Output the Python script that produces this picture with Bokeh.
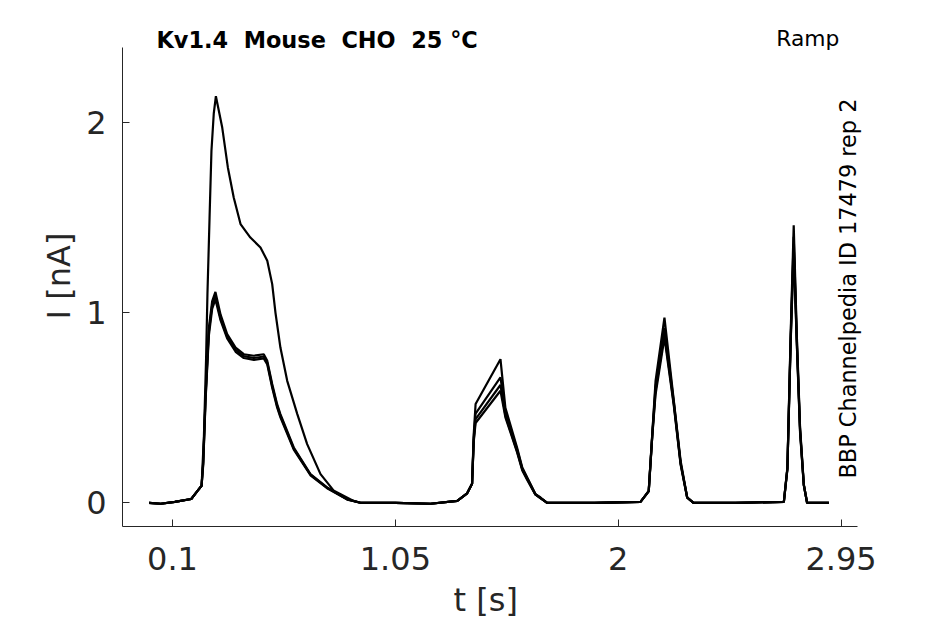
import math
from bokeh.plotting import figure
from bokeh.models import Label, FixedTicker, Range1d, Title
from bokeh.embed import file_html
from bokeh.resources import INLINE

# ---- data (time in s, current in nA) ----
# sweep with the large first peak
t_hi = [0.0, 0.05, 0.11, 0.18, 0.205, 0.224, 0.234, 0.243, 0.249, 0.258,
        0.266, 0.276, 0.285, 0.312, 0.336, 0.361, 0.390, 0.432, 0.475, 0.504,
        0.525, 0.539, 0.560, 0.589, 0.632, 0.674, 0.731, 0.788, 0.872, 0.901,
        1.05, 1.20, 1.314, 1.356, 1.377, 1.384, 1.392, 1.498, 1.519,
        1.569, 1.591, 1.612, 1.647, 1.669, 1.697, 1.90, 2.095, 2.130, 2.145,
        2.159, 2.197, 2.237, 2.266, 2.294, 2.321, 2.50, 2.706, 2.721, 2.735,
        2.748, 2.761, 2.775, 2.791, 2.805, 2.898]
i_hi = [0.0, -0.005, 0.005, 0.02, 0.06, 0.09, 0.35, 0.75, 1.10, 1.50,
        1.85, 2.05, 2.14, 1.975, 1.765, 1.607, 1.467, 1.396, 1.344, 1.274,
        1.151, 1.0, 0.817, 0.642, 0.467, 0.309, 0.151, 0.063, 0.01, 0.0,
        0.0, -0.005, 0.01, 0.05, 0.10, 0.36, 0.52, 0.756, 0.50,
        0.29, 0.186, 0.133, 0.046, 0.028, 0.0, 0.0, 0.005, 0.063, 0.36,
        0.64, 0.975, 0.537, 0.22, 0.028, 0.0, 0.0, 0.005, 0.186, 0.89,
        1.46, 0.89, 0.40, 0.098, 0.0, 0.0]

# three sweeps with the smaller first peak (common sample times)
t_lo = [0.0, 0.05, 0.11, 0.18, 0.205, 0.224, 0.231, 0.241, 0.255, 0.269,
        0.283, 0.305, 0.333, 0.369, 0.404, 0.447, 0.489, 0.504, 0.525, 0.546,
        0.560, 0.617, 0.688, 0.759, 0.845, 0.901, 1.05, 1.20, 1.314, 1.356,
        1.377, 1.384, 1.392, 1.498, 1.519, 1.569, 1.591, 1.612, 1.647, 1.669,
        1.697, 1.90, 2.095, 2.130, 2.145, 2.159, 2.197, 2.237, 2.266, 2.294,
        2.321, 2.50, 2.706, 2.721, 2.735, 2.748, 2.761, 2.775, 2.791, 2.805,
        2.898]
i_lo1 = [0.0, -0.005, 0.005, 0.02, 0.06, 0.09, 0.22, 0.57, 0.92, 1.06,
         1.11, 0.99, 0.888, 0.817, 0.782, 0.774, 0.782, 0.747, 0.625, 0.519,
         0.467, 0.291, 0.151, 0.081, 0.019, 0.0, 0.0, -0.005, 0.01, 0.05,
         0.10, 0.34, 0.47, 0.66, 0.48, 0.28, 0.18, 0.13, 0.045, 0.025,
         0.0, 0.0, 0.005, 0.063, 0.36, 0.61, 0.92, 0.53, 0.21, 0.028,
         0.0, 0.0, 0.005, 0.18, 0.87, 1.40, 0.87, 0.39, 0.095, 0.0,
         0.0]
i_lo2 = [0.0, -0.005, 0.005, 0.02, 0.06, 0.09, 0.21, 0.55, 0.90, 1.04,
         1.09, 0.97, 0.875, 0.805, 0.772, 0.762, 0.770, 0.737, 0.615, 0.510,
         0.458, 0.285, 0.148, 0.079, 0.018, 0.0, 0.0, -0.005, 0.01, 0.05,
         0.10, 0.33, 0.44, 0.62, 0.46, 0.27, 0.175, 0.125, 0.044, 0.025,
         0.0, 0.0, 0.005, 0.06, 0.35, 0.59, 0.89, 0.52, 0.205, 0.027,
         0.0, 0.0, 0.005, 0.18, 0.85, 1.36, 0.85, 0.38, 0.093, 0.0,
         0.0]
i_lo3 = [0.0, -0.005, 0.005, 0.02, 0.06, 0.09, 0.20, 0.54, 0.88, 1.02,
         1.07, 0.96, 0.865, 0.795, 0.762, 0.752, 0.760, 0.728, 0.605, 0.502,
         0.450, 0.280, 0.145, 0.077, 0.017, 0.0, 0.0, -0.005, 0.01, 0.05,
         0.10, 0.32, 0.42, 0.59, 0.45, 0.265, 0.17, 0.12, 0.043, 0.024,
         0.0, 0.0, 0.005, 0.06, 0.35, 0.57, 0.87, 0.51, 0.20, 0.027,
         0.0, 0.0, 0.005, 0.175, 0.84, 1.33, 0.84, 0.37, 0.092, 0.0,
         0.0]

x_ticks = [0.1, 1.05, 2, 2.95]
x_tick_labels = ["0.1", "1.05", "2", "2.95"]
y_ticks = [0, 1, 2]
y_tick_labels = ["0", "1", "2"]

x_limits = (-0.1131, 3.0199)
y_limits = (-0.1247, 2.398)

# double spaces kept visible in SVG with no-break spaces
title_text = "Kv1.4 \u00a0Mouse \u00a0CHO \u00a025 °C"
protocol_text = "Ramp"
side_text = "BBP Channelpedia ID 17479 rep 2"
x_label = "t [s]"
y_label = "I [nA]"

# ---- figure ----
FONT = "DejaVu Sans"
AX = "#262626"

p = figure(width=945, height=624, output_backend="svg", toolbar_location=None,
           x_range=Range1d(-0.1131, 3.0753), y_range=Range1d(-0.1247, 2.5121),
           min_border_left=122, min_border_right=75,
           min_border_top=25, min_border_bottom=98)
p.outline_line_color = None
p.xgrid.visible = False
p.ygrid.visible = False
p.background_fill_color = "white"
p.border_fill_color = "white"

for tt, ii in [(t_lo, i_lo3), (t_lo, i_lo2), (t_lo, i_lo1), (t_hi, i_hi)]:
    p.line(tt, ii, line_color="black", line_width=2.2)

xa = p.xaxis[0]
xa.ticker = FixedTicker(ticks=x_ticks)
xa.major_label_overrides = {k: v for k, v in zip(x_ticks, x_tick_labels)}
xa.bounds = x_limits
ya = p.yaxis[0]
ya.ticker = FixedTicker(ticks=y_ticks)
ya.major_label_overrides = {k: v for k, v in zip(y_ticks, y_tick_labels)}
ya.bounds = y_limits
for ax in (xa, ya):
    ax.axis_line_color = AX
    ax.axis_line_width = 1
    ax.major_tick_line_color = AX
    ax.major_tick_in = 7
    ax.major_tick_out = 0
    ax.minor_tick_line_color = None
    ax.major_label_text_font = FONT
    ax.major_label_text_font_size = "32px"
    ax.major_label_text_color = AX
    ax.axis_label_text_font = FONT
    ax.axis_label_text_font_size = "32px"
    ax.axis_label_text_font_style = "normal"
    ax.axis_label_text_color = AX
xa.major_label_standoff = 20
ya.major_label_standoff = 16
ya.axis_label = y_label
ya.axis_label_standoff = 5

# x-axis label as a title below the axis, positioned from the frame's left edge
p.add_layout(Title(text=x_label, align="left", offset=331, standoff=12,
                   vertical_align="bottom", text_font=FONT,
                   text_font_size="32px", text_font_style="normal",
                   text_color=AX), "below")

p.add_layout(Label(x=0.0318, y=2.438, text=title_text, text_align="left",
                   text_baseline="alphabetic", text_font=FONT,
                   text_font_size="22.4px", text_font_style="bold",
                   text_color="black"))
p.add_layout(Label(x=2.9425, y=2.442, text=protocol_text, text_align="right",
                   text_baseline="alphabetic", text_font=FONT,
                   text_font_size="21.8px", text_color="black"))
p.add_layout(Label(x=2.9815, y=0.128, text=side_text, text_align="left",
                   text_baseline="alphabetic", angle=math.pi / 2,
                   text_font=FONT, text_font_size="22.4px",
                   text_color="black"))

open("out.html", "w").write(file_html(p, INLINE))
